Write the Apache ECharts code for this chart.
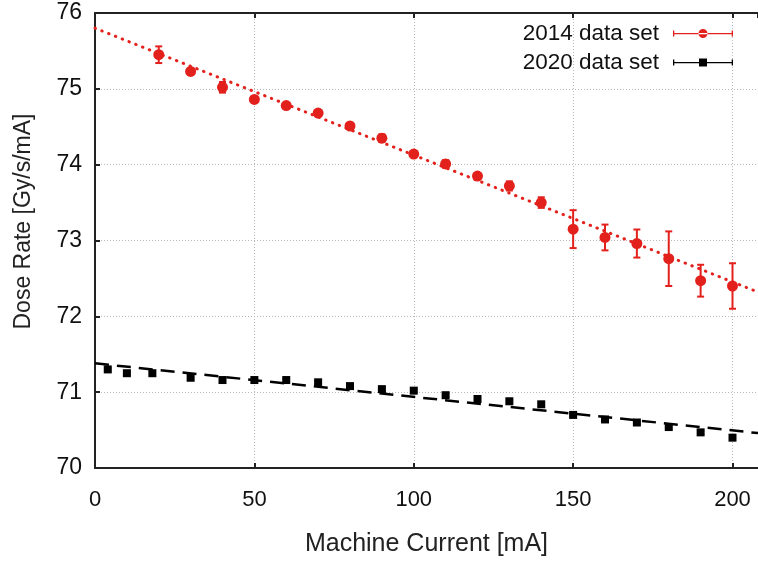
<!DOCTYPE html>
<html>
<head>
<meta charset="utf-8">
<script src="https://cdn.jsdelivr.net/npm/echarts@6/dist/echarts.min.js"></script>
<style>
    html, body { margin: 0; padding: 0; background: #fff; }
    #doseChart { width: 758px; height: 562px; }
</style>
</head>
<body>
<div id="doseChart"></div>
<script>
// 2014 数据
var x2014 = [20, 30, 40, 50, 60, 70, 80, 90, 100, 110, 120, 130, 140, 150, 160, 170, 180, 190, 200];
var y2014 = [75.45, 75.23, 75.02, 74.86, 74.78, 74.68, 74.51, 74.35, 74.14, 74.01, 73.85, 73.72, 73.50, 73.15, 73.04, 72.96, 72.76, 72.47, 72.40];
var err2014 = [0.11, 0.04, 0.07, 0.03, 0.03, 0.04, 0.03, 0.05, 0.04, 0.05, 0.04, 0.06, 0.07, 0.25, 0.17, 0.185, 0.36, 0.21, 0.30];

// 2020 数据
var x2020 = [4, 10, 18, 30, 40, 50, 60, 70, 80, 90, 100, 110, 120, 130, 140, 150, 160, 170, 180, 190, 200];
var y2020 = [71.30, 71.25, 71.25, 71.19, 71.16, 71.16, 71.16, 71.13, 71.08, 71.04, 71.02, 70.96, 70.91, 70.88, 70.84, 70.70, 70.64, 70.60, 70.54, 70.47, 70.40];
var err2020 = [0.02, 0.02, 0.02, 0.02, 0.02, 0.02, 0.02, 0.02, 0.02, 0.02, 0.02, 0.02, 0.02, 0.02, 0.02, 0.02, 0.02, 0.02, 0.02, 0.02, 0.02];

// 拟合线端点
var fit2014 = [[0, 75.80], [208, 72.32]];
var fit2020 = [[0, 71.38], [208, 70.46]];

var seriesNames = ['2014 data set', '2020 data set'];
var xTicks = { min: 0, max: 208, interval: 50 };
var yTicks = { min: 70, max: 76, interval: 1 };

var RED = '#e3211c';
var BLACK = '#000';
var FONT = 'Liberation Sans';

function pairs(xs, ys) {
    var out = [];
    for (var i = 0; i < xs.length; i++) {
        out.push([xs[i], ys[i]]);
    }
    return out;
}

function errPairs(xs, ys, es) {
    var out = [];
    for (var i = 0; i < xs.length; i++) {
        out.push([xs[i], ys[i] - es[i], ys[i] + es[i]]);
    }
    return out;
}

// 误差棒
function errorBarSeries(data, color) {
    return {
        type: 'custom',
        silent: true,
        z: 3,
        data: data,
        encode: { x: 0, y: [1, 2] },
        renderItem: function (params, api) {
            var lo = api.coord([api.value(0), api.value(1)]);
            var hi = api.coord([api.value(0), api.value(2)]);
            var half = 3.5;
            var style = { stroke: color, lineWidth: 2 };
            return {
                type: 'group',
                children: [
                    { type: 'line', shape: { x1: lo[0], y1: lo[1], x2: hi[0], y2: hi[1] }, style: style },
                    { type: 'line', shape: { x1: lo[0] - half, y1: lo[1], x2: lo[0] + half, y2: lo[1] }, style: style },
                    { type: 'line', shape: { x1: hi[0] - half, y1: hi[1], x2: hi[0] + half, y2: hi[1] }, style: style }
                ]
            };
        }
    };
}

// 图例图标: 横线 + 端帽 + 标记
var iconCircle = 'path://M0 4H60V5.2H0Z M0 1.5H1.3V7.5H0Z M58.7 1.5H60V7.5H58.7Z ' +
    'M25.5 4.5A4.5 4.5 0 1 0 34.5 4.5A4.5 4.5 0 1 0 25.5 4.5Z';
var iconSquare = 'path://M0 4H60V5.2H0Z M0 1.5H1.3V7.5H0Z M58.7 1.5H60V7.5H58.7Z ' +
    'M26 0.5H34V8.5H26Z';

function chartRender() {
    var chart = echarts.init(document.getElementById('doseChart'));

    var axisLine = { show: true, lineStyle: { color: '#222', width: 2 } };
    var axisTick = { show: true, inside: true, length: 5, lineStyle: { color: '#222', width: 2 } };
    var gridLine = { show: true, lineStyle: { color: '#b8b8b8', width: 1, type: [1, 2] } };

    var option = {
        animation: false,
        textStyle: { fontFamily: FONT },
        grid: { left: 95, right: 0, top: 13, bottom: 94 },
        legend: {
            orient: 'vertical',
            align: 'right',
            right: 20,
            top: 17,
            itemWidth: 60,
            itemHeight: 9,
            itemGap: 6,
            textStyle: { fontFamily: FONT, fontSize: 22.5, color: '#111', padding: [0, 9, 0, 0] },
            data: [
                { name: seriesNames[0], icon: iconCircle },
                { name: seriesNames[1], icon: iconSquare }
            ]
        },
        xAxis: [{
            type: 'value',
            min: xTicks.min,
            max: xTicks.max,
            interval: xTicks.interval,
            name: 'Machine Current [mA]',
            nameLocation: 'middle',
            nameGap: 64,
            nameTextStyle: { fontFamily: FONT, fontSize: 25, color: '#222' },
            axisLine: axisLine,
            axisTick: axisTick,
            axisLabel: { fontFamily: FONT, fontSize: 22, color: '#111', margin: 21, showMaxLabel: false },
            splitLine: gridLine
        }, {
            type: 'value',
            position: 'top',
            min: xTicks.min,
            max: xTicks.max,
            interval: xTicks.interval,
            axisLine: axisLine,
            axisTick: axisTick,
            axisLabel: { show: false },
            splitLine: { show: false }
        }],
        yAxis: {
            type: 'value',
            min: yTicks.min,
            max: yTicks.max,
            interval: yTicks.interval,
            name: 'Dose Rate [Gy/s/mA]',
            nameLocation: 'middle',
            nameGap: 60,
            nameTextStyle: { fontFamily: FONT, fontSize: 23, color: '#222', padding: [0, 0, 0, 38] },
            axisLine: axisLine,
            axisTick: axisTick,
            axisLabel: { fontFamily: FONT, fontSize: 23, color: '#111', margin: 13 },
            splitLine: gridLine
        },
        series: [
            {
                type: 'line',
                silent: true,
                showSymbol: false,
                z: 1,
                data: fit2014,
                lineStyle: { color: RED, width: 3, type: [0.5, 6.8], cap: 'round' }
            },
            {
                type: 'line',
                silent: true,
                showSymbol: false,
                z: 1,
                data: fit2020,
                lineStyle: { color: BLACK, width: 2.5, type: [14, 8] }
            },
            errorBarSeries(errPairs(x2014, y2014, err2014), RED),
            errorBarSeries(errPairs(x2020, y2020, err2020), BLACK),
            {
                name: seriesNames[0],
                type: 'scatter',
                z: 4,
                symbol: 'circle',
                symbolSize: 11,
                itemStyle: { color: RED, opacity: 1 },
                data: pairs(x2014, y2014)
            },
            {
                name: seriesNames[1],
                type: 'scatter',
                z: 4,
                symbol: 'rect',
                symbolSize: 8,
                itemStyle: { color: BLACK, opacity: 1 },
                data: pairs(x2020, y2020)
            }
        ]
    };

    chart.setOption(option);
}

chartRender();
</script>
</body>
</html>
